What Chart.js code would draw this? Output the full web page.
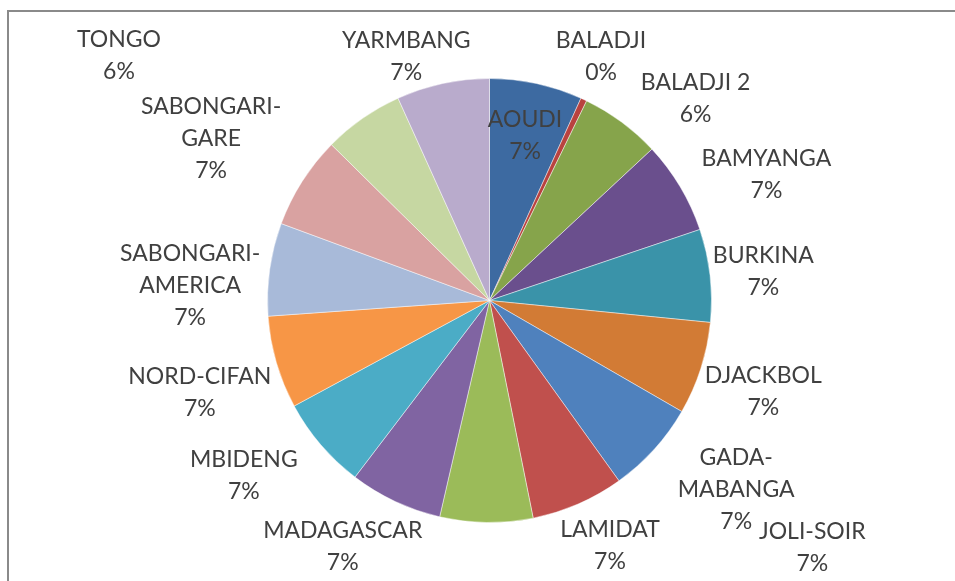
<!DOCTYPE html>
<html>
<head>
<meta charset="utf-8">
<script src="https://cdn.jsdelivr.net/npm/chart.js@4.4.1/dist/chart.umd.min.js"></script>
<style>
  html, body { margin: 0; padding: 0; background: #fff; overflow: hidden; }
  #wrap { position: relative; width: 955px; height: 581px; }
  #frame { position: absolute; left: 7px; top: 10px; width: 1000px; height: 700px; border: 2px solid #8a8a8a; box-sizing: border-box; }
  #chartPie { position: absolute; left: 0; top: 0; }
</style>
</head>
<body>
<div id="wrap">
  <div id="frame"></div>
  <canvas id="chartPie" width="955" height="581"></canvas>
</div>
<script>
// Repartition par quartier (camembert type Excel)
const quartiers = ['AOUDI', 'BALADJI', 'BALADJI 2', 'BAMYANGA', 'BURKINA', 'DJACKBOL',
  'GADA-MABANGA', 'JOLI-SOIR', 'LAMIDAT', 'MADAGASCAR', 'MBIDENG', 'NORD-CIFAN',
  'SABONGARI-AMERICA', 'SABONGARI-GARE', 'TONGO', 'YARMBANG'];
const effectifs = [15, 1, 13, 15, 15, 15, 15, 15, 15, 15, 15, 15, 15, 15, 13, 15];

const couleurs = ['#3d6aa1', '#b9423f', '#86a44b', '#6a4f8d', '#3a93a9', '#d27b35',
  '#4f81bd', '#c0504d', '#9bbb59', '#8064a2', '#4bacc6', '#f79646',
  '#a8bad9', '#d9a2a1', '#c6d7a2', '#b9abcc'];

// placement des etiquettes : [decalage d'angle (deg), distance en rayons]
const placement = [[0, 0.76], [-0.6, 1.21], [9.1, 1.30], [6.4, 1.37], [0.5, 1.24], [0.6, 1.30],
  [-4.7, 1.40], [-29.1, 1.83], [-27, 1.23], [5.7, 1.29], [5, 1.36], [-1.5, 1.37],
  [-5.3, 1.35], [-2.3, 1.45], [-21.7, 2.0], [-6.7, 1.16]];

const etiquettes = {
  id: 'etiquettes',
  afterDatasetsDraw(chart) {
    const ctx = chart.ctx;
    const meta = chart.getDatasetMeta(0);
    const values = chart.data.datasets[0].data;
    const total = values.reduce((a, b) => a + b, 0);
    ctx.save();
    ctx.font = '23px Lato';
    ctx.fillStyle = '#404040';
    ctx.textAlign = 'center';
    ctx.textBaseline = 'middle';
    meta.data.forEach((arc, i) => {
      const p = arc.getProps(['x', 'y', 'startAngle', 'endAngle', 'outerRadius'], true);
      const mid = (p.startAngle + p.endAngle) / 2 + placement[i][0] * Math.PI / 180;
      const cx = p.x + Math.cos(mid) * p.outerRadius * placement[i][1];
      const cy = p.y + Math.sin(mid) * p.outerRadius * placement[i][1];
      const name = chart.data.labels[i];
      let lines = [name];
      if (name.length > 10 && name.indexOf('-') > 0) {
        const k = name.indexOf('-');
        lines = [name.slice(0, k + 1), name.slice(k + 1)];
      }
      lines.push(Math.round(values[i] / total * 100) + '%');
      const lh = 32;
      const y0 = cy - (lines.length - 1) * lh / 2;
      lines.forEach((t, j) => ctx.fillText(t, cx, y0 + j * lh));
    });
    ctx.restore();
  }
};

const ctxPie = document.getElementById('chartPie').getContext('2d');
const chartPie = new Chart(ctxPie, {
  type: 'pie',
  data: {
    labels: quartiers,
    datasets: [{
      data: effectifs,
      backgroundColor: couleurs,
      borderColor: 'rgba(255, 255, 255, 0.45)',
      borderWidth: 1
    }]
  },
  options: {
    responsive: false,
    animation: false,
    layout: {
      padding: { left: 267, right: 243, top: 78, bottom: 58 }
    },
    plugins: {
      legend: { display: false },
      tooltip: { enabled: false }
    }
  },
  plugins: [etiquettes]
});
</script>
</body>
</html>
